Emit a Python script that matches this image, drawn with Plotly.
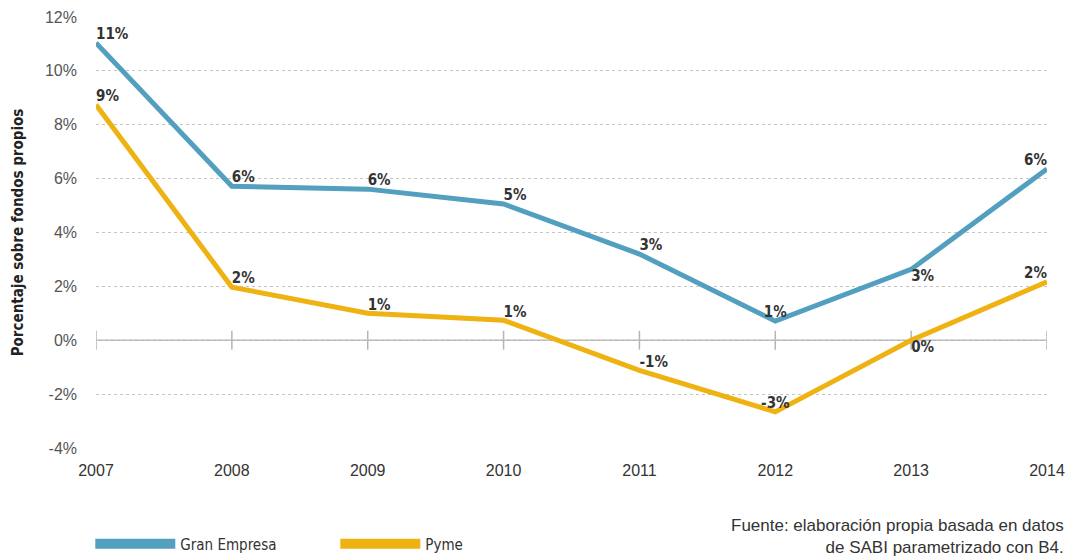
import plotly.graph_objects as go

years = [2007, 2008, 2009, 2010, 2011, 2012, 2013, 2014]
gran_empresa = [11.04, 5.72, 5.61, 5.06, 3.20, 0.71, 2.63, 6.36]
pyme = [8.74, 1.97, 1.00, 0.74, -1.12, -2.66, 0.00, 2.17]

ge_pos = ["top right", "top right", "top right", "top right", "top right",
          "top center", "bottom right", "top left"]
pyme_pos = ["top right", "top right", "top right", "top right", "top right",
            "top center", "bottom right", "top left"]

y_ticks = [-4, -2, 0, 2, 4, 6, 8, 10, 12]
y_ticktext = [f"{v}%" for v in y_ticks]

BLUE = "#529FC0"
YELLOW = "#EFB213"
COND = "DejaVu Sans Condensed"
BODY = "Liberation Sans, Arial, sans-serif"

fig = go.Figure()

fig.add_trace(go.Scatter(
    x=years, y=gran_empresa, mode="lines+text", name="Gran Empresa",
    line=dict(color=BLUE, width=5), texttemplate="<b>%{y:.0f}%</b>",
    textposition=ge_pos, textfont=dict(family=COND, size=15, color="#333"),
    showlegend=False, cliponaxis=False,
))
fig.add_trace(go.Scatter(
    x=years, y=pyme, mode="lines+text", name="Pyme",
    line=dict(color=YELLOW, width=5), texttemplate="<b>%{y:.0f}%</b>",
    textposition=pyme_pos, textfont=dict(family=COND, size=15, color="#333"),
    showlegend=False, cliponaxis=False,
))

# legend entries with thicker strokes
for name, color in [("Gran Empresa", BLUE), ("Pyme", YELLOW)]:
    fig.add_trace(go.Scatter(x=[None], y=[None], mode="lines", name=name,
                             line=dict(color=color, width=10)))

# zero line with year ticks crossing it
for yr in years:
    fig.add_shape(type="line", xref="x", yref="y", x0=yr, x1=yr, y0=-0.35, y1=0.35,
                  line=dict(color="#b5b5b5", width=1.5), layer="below")
fig.add_shape(type="line", xref="x", yref="y", x0=years[0], x1=years[-1], y0=0, y1=0,
              line=dict(color="#b5b5b5", width=1.5), layer="below")

fig.add_annotation(
    text="Fuente: elaboración propia basada en datos<br>de SABI parametrizado con B4.",
    xref="paper", yref="paper", x=1.0, xshift=19, y=-0.152, xanchor="right", yanchor="top",
    align="right", showarrow=False, font=dict(family=BODY, size=17, color="#333"),
)

fig.update_layout(
    width=1072, height=558,
    margin=dict(l=96, r=25, t=17, b=110, autoexpand=False),
    paper_bgcolor="white", plot_bgcolor="white",
    xaxis=dict(range=[2007, 2014], tickvals=years, ticktext=[str(y) for y in years],
               showgrid=False, zeroline=False, showline=False, ticks="",
               ticklabelstandoff=11,
               tickfont=dict(family=BODY, size=16, color="#333")),
    yaxis=dict(range=[-4, 12], tickvals=y_ticks, ticktext=y_ticktext,
               showgrid=True, gridcolor="#c4c4c4", griddash="dot", gridwidth=1,
               zeroline=False, showline=False, ticks="", ticklabelstandoff=18,
               tickfont=dict(family=BODY, size=16, color="#555"),
               title=dict(text="<b>Porcentaje sobre fondos propios</b>",
                          font=dict(family=COND, size=15, color="#222"), standoff=17)),
    legend=dict(orientation="h", x=-0.006, xref="paper", y=0.025, yref="container",
                xanchor="left", yanchor="middle",
                itemwidth=80, font=dict(family=COND, size=15, color="#333"),
                traceorder="normal", entrywidth=150),
)

fig.write_html("out.html")
